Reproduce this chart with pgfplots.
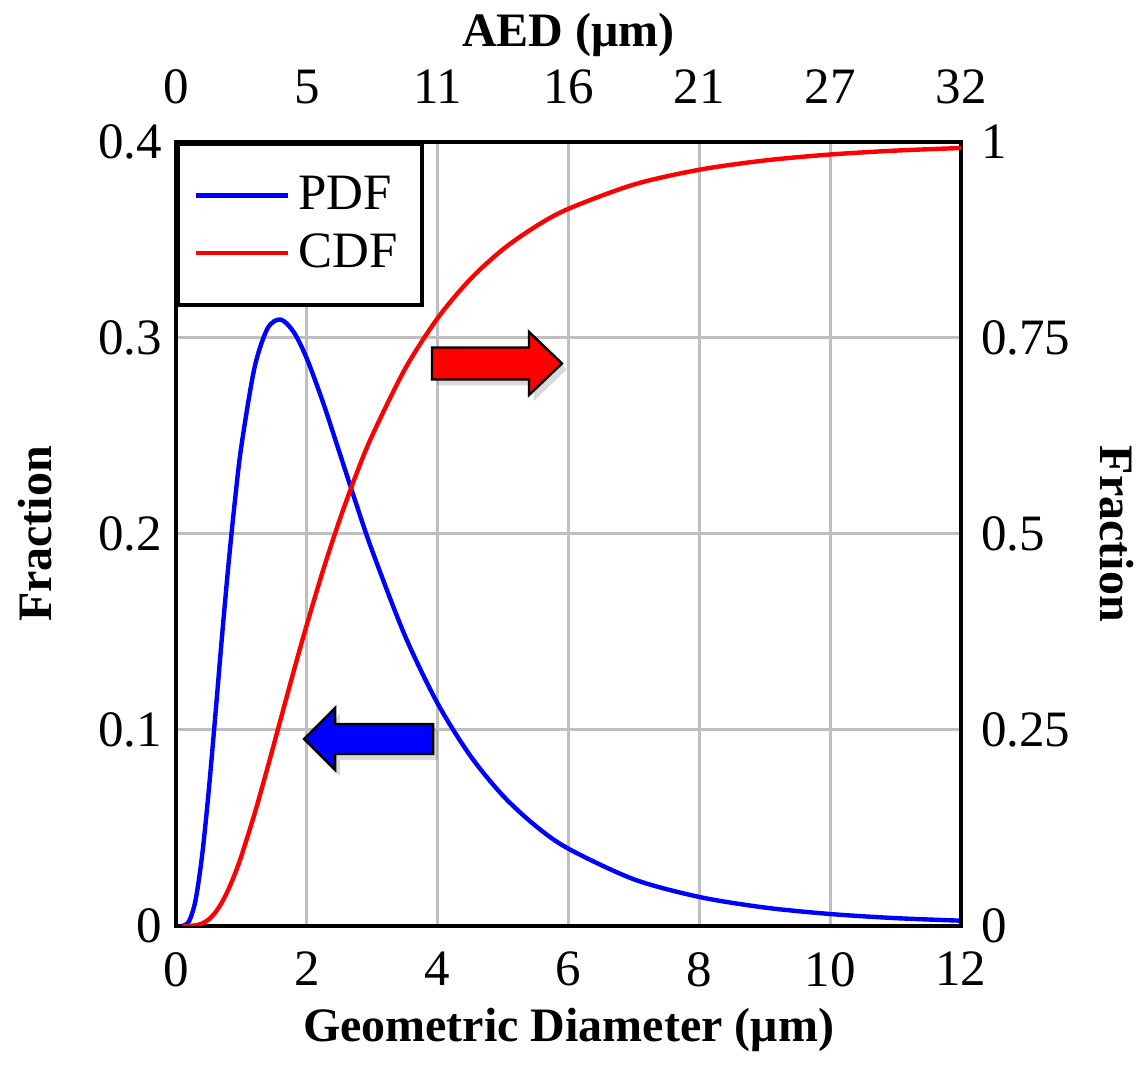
\documentclass[border=0pt]{standalone}
\usepackage{fontspec}
\setmainfont{Liberation Serif}
\usepackage{pgfplots}
\usepackage{pgfplotstable}
\pgfplotsset{compat=1.18}
\usetikzlibrary{shadows}

\pgfplotstableread{
x    pdf     cdf
0.1  0.00005 0.0000
0.2  0.0024  0.0001
0.3  0.0133  0.0008
0.4  0.0362  0.0032
0.5  0.0688  0.0083
0.6  0.1069  0.0171
0.7  0.1464  0.0298
0.8  0.1836  0.0463
0.9  0.2167  0.0663
1.0  0.2450  0.0895
1.2  0.2848  0.1428
1.4  0.3049  0.2021
1.6  0.3094  0.2637
1.8  0.3030  0.3252
2.0  0.2895  0.3844
2.25 0.2669  0.4541
2.5  0.2415  0.5177
2.75 0.2159  0.5749
3.0  0.1914  0.6257
3.5  0.1481  0.7103
4.0  0.1135  0.7753
4.5  0.0868  0.8251
5.0  0.0664  0.8632
5.5  0.0510  0.8923
6.0  0.0394  0.9148
7.0  0.0238  0.9457
8.0  0.0148  0.9646
9.0  0.0094  0.9764
10.0 0.0061  0.9840
11.0 0.0040  0.9890
12.0 0.0027  0.9923
}\gsd

\pgfplotsset{
  base/.style={
    scale only axis, width=196.25pt, height=196pt,
    xmin=0, xmax=12,
    font=\fontsize{12.75}{15}\selectfont,
    /pgf/number format/assume math mode=true,
    major tick length=0pt,
    axis line style={line width=1pt},
    tick label style={font=\fontsize{12.75}{15}\selectfont},
  },
}

\begin{document}
\begin{tikzpicture}
\begin{axis}[base,
  ymin=0, ymax=0.4,
  xtick={0,2,4,6,8,10,12}, ytick={0,0.1,0.2,0.3,0.4},
  xticklabel style={yshift=-3pt},
  grid=major, grid style={line width=0.75pt, color=black!25},
  xlabel={Geometric Diameter (μm)}, ylabel={Fraction},
  every axis x label/.style={at={(axis description cs:0.5,-0.133)}, anchor=center,
    font=\fontsize{12}{14}\selectfont\bfseries},
  every axis y label/.style={at={(axis description cs:-0.18,0.5)}, anchor=center, rotate=90,
    font=\fontsize{12}{14}\selectfont\bfseries},
  legend style={at={(0,1)}, anchor=north west, draw=black, line width=1pt,
    inner xsep=4pt, inner ysep=6pt, row sep=0.5pt, cells={anchor=west},
    font=\fontsize{12.75}{15}\selectfont},
  legend image code/.code={\draw[#1] (0pt,0pt) -- (23pt,0pt);},
]
\addplot[blue, line width=1.1pt, smooth] table[x=x, y=pdf] {\gsd};
\addlegendentry{PDF}
\addlegendimage{red, line width=1.1pt}
\addlegendentry{CDF}

% arrows pointing to the matching axis
\draw[fill=red, line width=0.6pt, drop shadow={opacity=0.3, shadow xshift=1.2pt, shadow yshift=-1.5pt}]
  ([yshift=4pt]axis cs:3.913,0.287) -- ++(24.25pt,0) -- ++(0,3.9pt) -- ++(8.25pt,-7.9pt)
  -- ++(-8.25pt,-7.9pt) -- ++(0,3.9pt) -- ++(-24.25pt,0) -- cycle;
\draw[fill=blue, line width=0.6pt, drop shadow={opacity=0.3, shadow xshift=1.2pt, shadow yshift=-1.5pt}]
  ([yshift=3.75pt]axis cs:3.93,0.0954) -- ++(-24.5pt,0) -- ++(0,4pt) -- ++(-7.75pt,-7.75pt)
  -- ++(7.75pt,-7.75pt) -- ++(0,4pt) -- ++(24.5pt,0) -- cycle;

\coordinate (bl) at (rel axis cs:0,0);
\coordinate (tr) at (rel axis cs:1,1);
\end{axis}

\begin{axis}[base,
  ymin=0, ymax=1,
  axis x line*=top, axis y line*=right,
  xtick={0,2,4,6,8,10,12}, xticklabels={0,5,11,16,21,27,32},
  xticklabel style={yshift=6pt},
  ytick={0,0.25,0.5,0.75,1},
  yticklabel style={xshift=1.5pt},
  xlabel={AED (μm)}, ylabel={Fraction},
  every axis x label/.style={at={(axis description cs:0.5,1.136)}, anchor=center,
    font=\fontsize{12}{14}\selectfont\bfseries},
  every axis y label/.style={at={(axis description cs:1.199,0.5)}, anchor=center, rotate=-90,
    font=\fontsize{12}{14}\selectfont\bfseries},
]
\addplot[red, line width=1.1pt, smooth] table[x=x, y=cdf] {\gsd};
\end{axis}

\pgfresetboundingbox
\useasboundingbox ([shift={(-44pt,-34.75pt)}]bl) rectangle ([shift={(44pt,35.5pt)}]tr);
\end{tikzpicture}
\end{document}
